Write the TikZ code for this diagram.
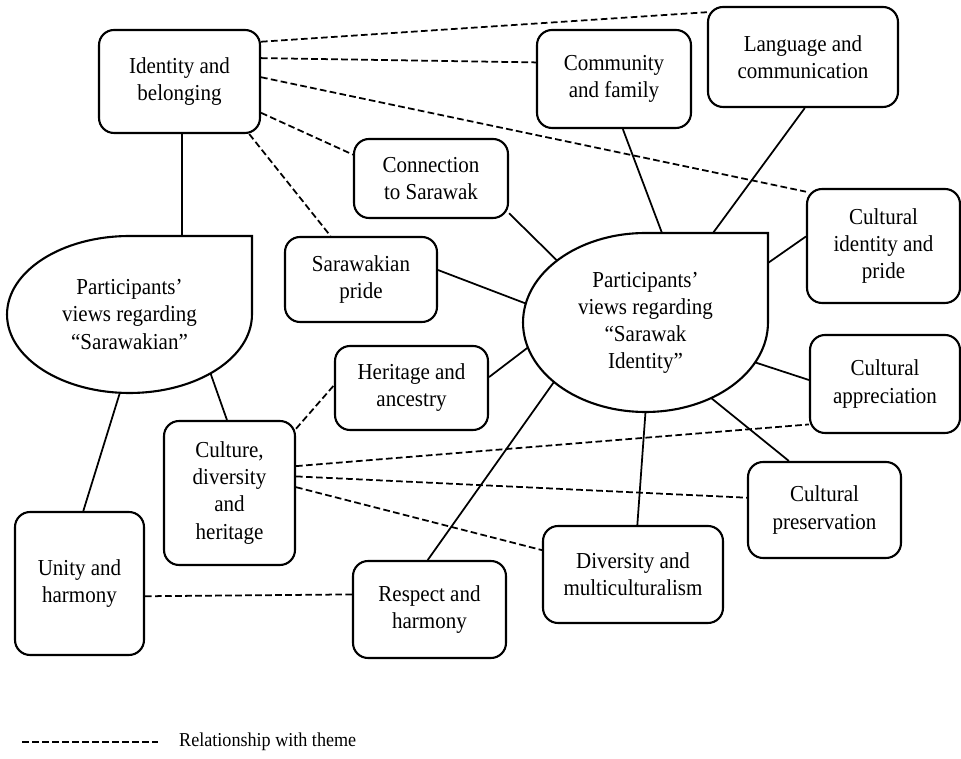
\documentclass[tikz,border=0pt]{standalone}
\usepackage{fontspec}
\setmainfont{Liberation Serif}[FakeStretch=0.92]
\usetikzlibrary{shapes.geometric, positioning}

\begin{document}
\begin{tikzpicture}[x=0.02cm, y=0.02cm,
            every node/.style={font=\fontsize{13}{15.4}\selectfont},
            theme/.style={draw, rectangle, rounded corners=0.3cm, line width=1.2pt, align=center, inner sep=2pt},
            hub/.style={ellipse, inner sep=0pt, outer sep=0pt, minimum width=4.9cm, align=center},
            hubline/.style={line width=1.2pt},
            link/.style={line width=1pt},
            relation/.style={line width=1pt, dash pattern=on 3.8pt off 1.9pt}]
            \useasboundingbox (0,0) rectangle (961,758);

            % Hubs
            \node (lhub) [hub, minimum height=3.14cm] at (129.5,443.5) {Participants’\\views regarding\\“Sarawakian”};
            \node (rhub) [hub, minimum height=3.58cm] at (645.5,435.5) {Participants’\\views regarding\\“Sarawak\\Identity”};
            \draw [hubline] (lhub.east) |- (lhub.north) arc[start angle=90, end angle=360, x radius=2.45cm, y radius=1.57cm] -- cycle;
            \draw [hubline] (rhub.east) |- (rhub.north) arc[start angle=90, end angle=360, x radius=2.45cm, y radius=1.79cm] -- cycle;

            % Themes
            \node (identity) [theme, minimum width=3.22cm, minimum height=2.06cm] at (179.5,676.5) {Identity and\\belonging};
            \node (community) [theme, minimum width=3.08cm, minimum height=1.96cm] at (614,679) {Community\\and family};
            \node (language) [theme, minimum width=3.80cm, minimum height=2.00cm] at (803,701) {Language and\\communication};
            \node (connection) [theme, minimum width=3.08cm, minimum height=1.58cm] at (431,579.5) {Connection\\to Sarawak};
            \node (pride) [theme, minimum width=3.04cm, minimum height=1.70cm] at (361,478.5) {Sarawakian\\pride};
            \node (culturalid) [theme, minimum width=3.06cm, minimum height=2.28cm] at (883.5,512) {Cultural\\identity and\\pride};
            \node (heritage) [theme, minimum width=3.06cm, minimum height=1.68cm] at (411.5,370) {Heritage and\\ancestry};
            \node (appreciation) [theme, minimum width=3.00cm, minimum height=1.96cm] at (885,374) {Cultural\\appreciation};
            \node (culture) [theme, minimum width=2.62cm, minimum height=2.88cm] at (229.5,265) {Culture,\\diversity\\and\\heritage};
            \node (preservation) [theme, minimum width=3.06cm, minimum height=1.92cm] at (824.5,248) {Cultural\\preservation};
            \node (diversity) [theme, minimum width=3.60cm, minimum height=1.94cm] at (633,183.5) {Diversity and\\multiculturalism};
            \node (unity) [theme, minimum width=2.58cm, minimum height=2.86cm] at (79.5,174.5) {Unity and\\harmony};
            \node (respect) [theme, minimum width=3.06cm, minimum height=1.94cm] at (429.5,148.5) {Respect and\\harmony};

            % Links to the hubs
            \draw [link] (identity.273) -- (identity.273 |- lhub.north);
            \draw [link] (lhub.324) -- (culture.92);
            \draw [link] (lhub.263) -- (unity.87);
            \draw [link] (rhub.145) -- (connection.336);
            \draw [link] (rhub.171) -- (pride.7);
            \draw [link] (rhub.192) -- (heritage.8);
            \draw [link] (rhub.213) -- (respect.92);
            \draw [link] (rhub.south) -- (diversity.85);
            \draw [link] (rhub.311) -- (preservation.126);
            \draw [link] (rhub.340) -- (appreciation.177);
            \draw [link] ([yshift=1.19cm]rhub.east) -- (culturalid.173);
            \draw [link] ([xshift=0.33cm]rhub.north) -- (community.280);
            \draw [link] ([xshift=1.35cm]rhub.north) -- (language.272);

            % Relationships with theme
            \draw [relation] (identity.26) -- (language.155);
            \draw [relation] (identity.16) -- (community.168);
            \draw [relation] (identity.3) -- (culturalid.145);
            \draw [relation] (identity.339) -- (connection.163);
            \draw [relation] (identity.323) -- (pride.125);
            \draw [relation] (culture.44) -- (heritage.178);
            \draw [relation] (culture.22) -- (appreciation.208);
            \draw [relation] (culture.14) -- (preservation.171);
            \draw [relation] (culture.5) -- (diversity.165);
            \draw [relation] (unity.349) -- (respect.169);

            % Legend
            \coordinate (legA) at (22,16);
            \coordinate (legB) at (158,16);
            \draw [relation] (legA) -- (legB);
            \node (legtext) [right=0.3cm of legB, font=\fontsize{11.2}{13}\selectfont] {Relationship with theme};
        \end{tikzpicture}
\end{document}
